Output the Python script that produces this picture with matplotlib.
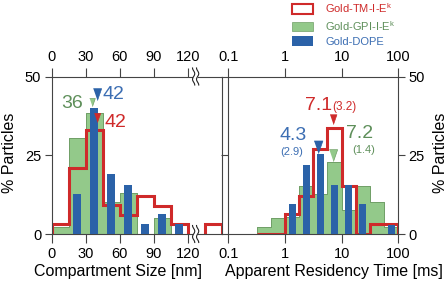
import numpy as np
import matplotlib
matplotlib.use("Agg")
import matplotlib.pyplot as plt
from matplotlib.patches import Patch, Rectangle
from matplotlib.lines import Line2D
from matplotlib.transforms import IdentityTransform

plt.rcParams['font.family'] = ['Liberation Sans', 'DejaVu Sans']
plt.rcParams['mathtext.fontset'] = 'custom'
plt.rcParams['mathtext.rm'] = 'Liberation Sans'

RED = '#cf2a2a'
GREEN = '#93c98a'
GREEN_EDGE = '#6f9f66'
GREEN_TXT = '#5e8f5a'
BLUE = '#2b62a8'
BLUE_TXT = '#3c6eb3'
SPINE = '#444444'

# compartment size, 15 nm bins (the red bin past the axis break is ">120")
size_edges = np.arange(0, 121, 15)
size_tm = [3.3, 21.1, 33.1, 9.2, 6.0, 12.0, 8.9, 3.1]
size_over_edges = [135, 150]
size_tm_over = [3.1]
size_gpi = [2.3, 30.5, 38.4, 10.2, 12.9, 0, 5.1, 0]
size_dope = [0, 12.6, 40.0, 18.9, 15.7, 3.2, 6.3, 3.2]

# apparent residency time, quarter-decade bins
time_edges = 10 ** np.arange(-0.5, 2.01, 0.25)
time_tm = [0, 0, 6.2, 12.0, 27.1, 33.5, 15.3, 0, 3.2, 3.2]
time_gpi = [2.1, 5.0, 5.5, 15.2, 12.6, 22.9, 7.6, 15.3, 10.2, 2.3]
time_dope = [0, 0, 9.4, 22.0, 25.5, 15.5, 15.5, 9.4, 0, 3.0]

# median markers: (x tip, y tip, size)
size_marks = {'dope': (40.0, 42.4, 17), 'gpi': (35.6, 40.5, 11.5), 'tm': (39.7, 35.5, 13)}
time_marks = {'dope': (3.9, 25.6, 18), 'gpi': (7.1, 23.2, 17), 'tm': (6.9, 35.0, 14)}

tri = [(-0.35, 1.0), (0.35, 1.0), (0.0, 0.0)]


def hist_panel(ax, edges, tm, gpi, dope, dope_l, dope_r):
    ax.stairs(gpi, edges, fill=True, facecolor=GREEN, edgecolor=GREEN_EDGE, lw=0.6, zorder=1)
    ax.stairs(gpi, edges, fill=False, color=GREEN_EDGE, lw=0.6, zorder=1.1)
    ax.stairs(tm, edges, fill=False, color=RED, lw=2.2, zorder=2)
    ax.bar(dope_l, dope, width=dope_r - dope_l, align='edge', color=BLUE, lw=0, zorder=3)


fig = plt.figure(figsize=(4.48, 2.86), dpi=100)
axL = fig.add_axes([51.7 / 448, 52 / 286, 170 / 448, 157.5 / 286])
axR = fig.add_axes([228.3 / 448, 52 / 286, 170 / 448, 157.5 / 286])

# ---- left: compartment size
cen = (size_edges[:-1] + size_edges[1:]) / 2
hist_panel(axL, size_edges, size_tm, size_gpi, np.array(size_dope),
           cen - 3.75, cen + 3.75)
axL.stairs(size_tm_over, size_over_edges, fill=False, color=RED, lw=2.2, zorder=2)
axL.set_xlim(0, 150)
axL.set_ylim(0, 50)
axL.set_xticks([0, 30, 60, 90, 120])
axL.set_yticks([0, 25, 50])
axL.tick_params(axis='x', top=True, labeltop=True, direction='out', length=6.5,
                width=0.8, pad=2.5, labelsize=10.5, color=SPINE)
axL.tick_params(axis='y', direction='out', length=5, width=0.8, pad=2.5,
                labelsize=10.5, color=SPINE)

# ---- right: residency time
lc = np.sqrt(time_edges[:-1] * time_edges[1:])
hist_panel(axR, time_edges, time_tm, time_gpi, np.array(time_dope),
           lc * 10 ** -0.0625, lc * 10 ** 0.0625)
axR.set_xscale('log')
axR.set_xlim(0.1, 100)
axR.set_ylim(0, 50)
axR.set_xticks([0.1, 1, 10, 100])
axR.set_xticklabels(['0.1', '1', '10', '100'])
axR.xaxis.set_minor_locator(matplotlib.ticker.NullLocator())
axR.set_yticks([0, 25, 50])
axR.tick_params(axis='x', top=True, labeltop=True, direction='out', length=6.5,
                width=0.8, pad=2.5, labelsize=10.5, color=SPINE)
axR.tick_params(axis='y', left=True, right=True, labelleft=False, labelright=True,
                direction='out', length=5, width=0.8, pad=2.5, labelsize=10.5, color=SPINE)

for ax in (axL, axR):
    for s in ax.spines.values():
        s.set_color(SPINE)
        s.set_linewidth(0.8)
    ax.spines['right'].set_zorder(4)

# medians
for ax, marks in ((axL, size_marks), (axR, time_marks)):
    for key, col in (('gpi', GREEN), ('dope', BLUE), ('tm', RED)):
        x, y, ms = marks[key]
        ax.plot([x], [y], marker=tri, markersize=ms, color=col, mec=col if key != 'gpi' else GREEN_EDGE,
                mew=0.5, ls='none', zorder=5, clip_on=False)

axL.text(17.6, 40.0, '36', color=GREEN_TXT, fontsize=14, ha='center', va='baseline')
axL.text(54.5, 42.9, '42', color=BLUE_TXT, fontsize=14, ha='center', va='baseline')
axL.text(55.9, 34.1, '42', color=RED, fontsize=14, ha='center', va='baseline')

axR.text(3.85, 39.5, '7.1', color=RED, fontsize=14, ha='center', va='baseline')
axR.text(6.92, 39.5, '(3.2)', color=RED, fontsize=8.5, ha='left', va='baseline')
axR.text(1.42, 30.0, '4.3', color=BLUE_TXT, fontsize=14, ha='center', va='baseline')
axR.text(1.31, 25.0, '(2.9)', color=BLUE_TXT, fontsize=8, ha='center', va='baseline')
axR.text(20.6, 30.6, '7.2', color=GREEN_TXT, fontsize=14, ha='center', va='baseline')
axR.text(24.2, 25.6, '(1.4)', color=GREEN_TXT, fontsize=8, ha='center', va='baseline')

# axis break on the left panel
xb = axL.transData.transform((127, 0))[0]
t = np.linspace(-1, 1, 40)
for yax in (0, 1):
    yb = axL.transAxes.transform((0, yax))[1]
    fig.add_artist(Rectangle((xb - 2.2, yb - 1.5), 4.4, 3, transform=IdentityTransform(),
                             facecolor='white', edgecolor='none', zorder=6))
    for dx in (-2.0, 2.0):
        fig.add_artist(Line2D(xb + dx + 1.1 * np.sin(t * np.pi * 1.5), yb + 8.5 * t,
                              transform=IdentityTransform(), color='#222222', lw=0.8, zorder=7))

fig.text(118.5 / 448, 1 - 271.5 / 286, 'Compartment Size [nm]', fontsize=11.5, ha='center', va='center')
fig.text(334 / 448, 1 - 271.5 / 286, 'Apparent Residency Time [ms]', fontsize=11.5, ha='center', va='center')
fig.text(10 / 448, 1 - 153 / 286, '% Particles', fontsize=11.5, rotation=90, ha='center', va='center')
fig.text(440 / 448, 1 - 153 / 286, '% Particles', fontsize=11.5, rotation=90, ha='center', va='center')

handles = [Patch(facecolor='white', edgecolor=RED, lw=1.5),
           Patch(facecolor=GREEN, edgecolor=GREEN_EDGE, lw=0.5),
           Patch(facecolor=BLUE, edgecolor=BLUE, lw=0)]
labels = ['Gold-TM-I-E$^{\\mathrm{k}}$', 'Gold-GPI-I-E$^{\\mathrm{k}}$', 'Gold-DOPE']
fig.legend(handles, labels, loc='upper left', bbox_to_anchor=(291 / 448, 1.0),
           frameon=False, fontsize=8, handlelength=1.9, handleheight=0.9,
           handletextpad=1.1, labelspacing=0.35, borderaxespad=0, borderpad=0.1,
           labelcolor=[RED, GREEN_TXT, BLUE_TXT])

fig.savefig('out.png', dpi=100)
